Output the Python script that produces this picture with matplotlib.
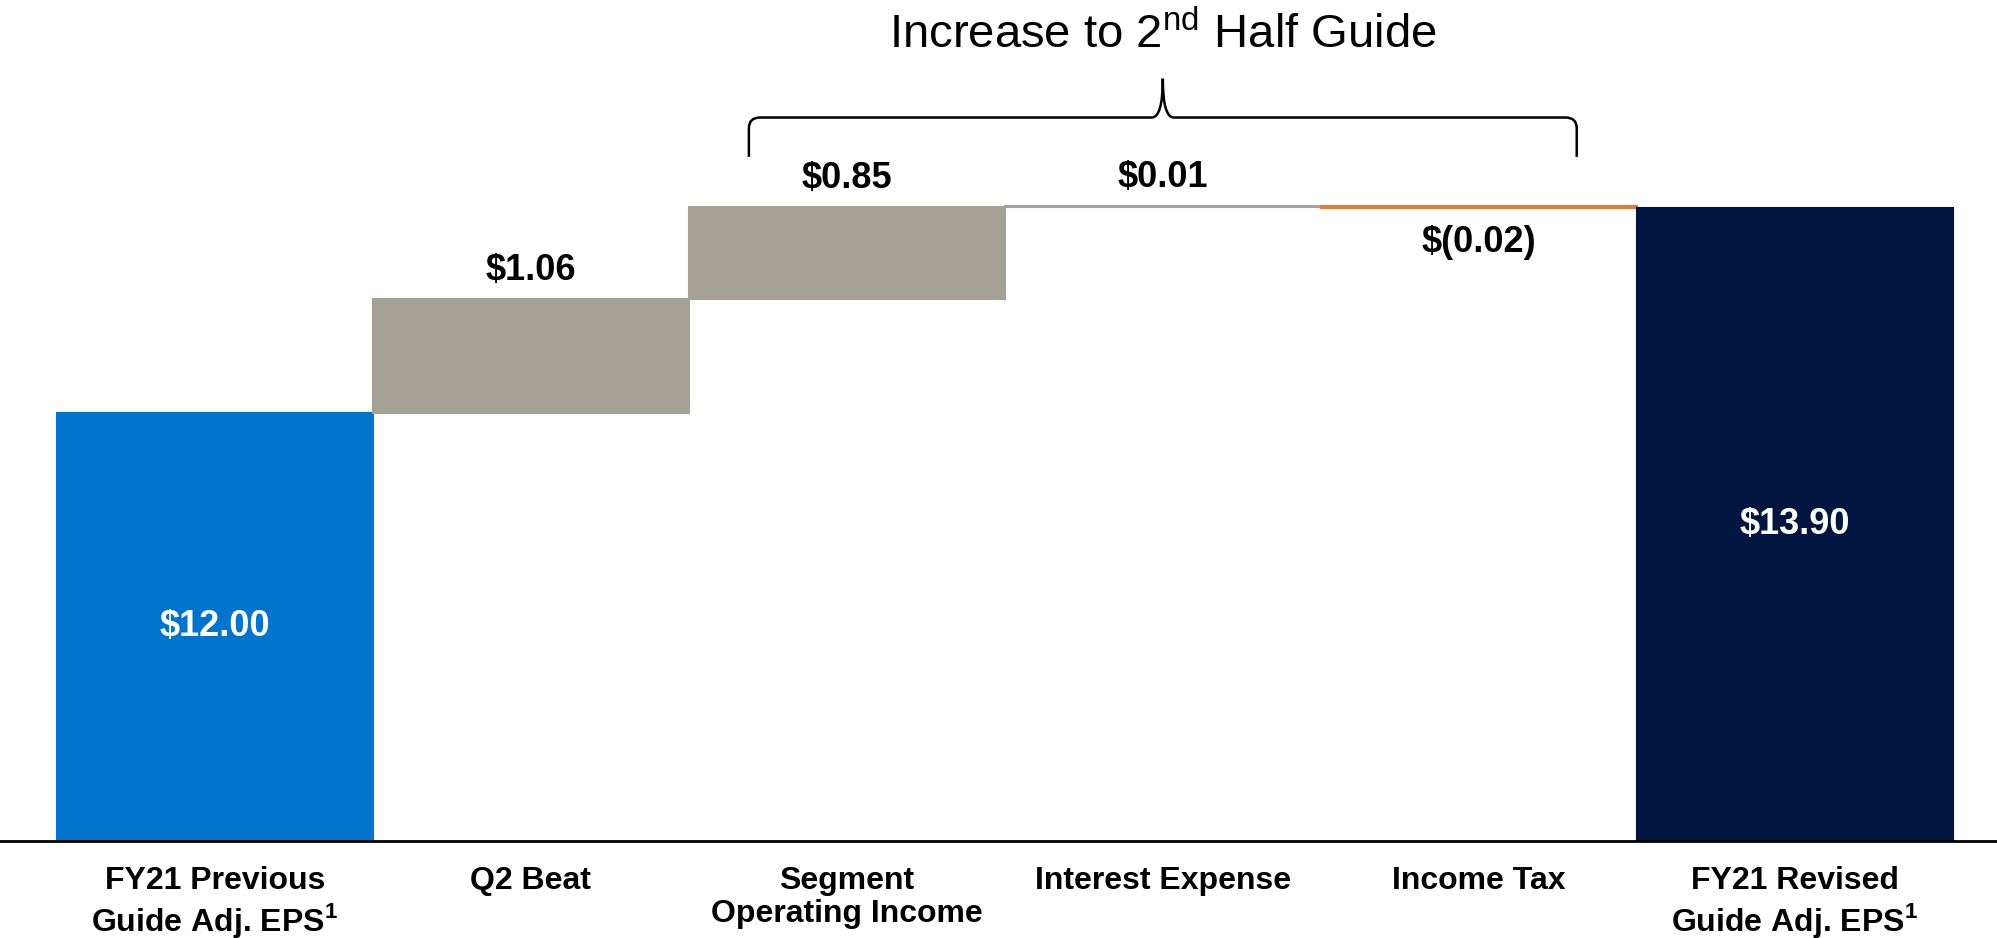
import matplotlib.pyplot as plt
from matplotlib.path import Path
from matplotlib.patches import PathPatch
import numpy as np

plt.rcParams['font.family'] = ['Liberation Sans', 'DejaVu Sans']
plt.rcParams['mathtext.fontset'] = 'custom'
plt.rcParams['mathtext.rm'] = 'Liberation Sans'
plt.rcParams['mathtext.bf'] = 'Liberation Sans:bold'

# data
categories = ['FY21 Previous\nGuide Adj. EPS$^\\mathbf{1}$', 'Q2 Beat', 'Segment\nOperating Income',
              'Interest Expense', 'Income Tax', 'FY21 Revised\nGuide Adj. EPS$^\\mathbf{1}$']
start_value = 12.00
changes = [1.06, 0.85, 0.01, -0.02]
end_value = 13.90
labels = ['\\$12.00', '\\$1.06', '\\$0.85', '\\$0.01', '\\$(0.02)', '\\$13.90']

c_start = '#0074CC'
c_up = '#A5A195'
c_down = '#E07B39'
c_end = '#00163F'

y_floor = 8.03

fig = plt.figure(figsize=(19.97, 9.38), dpi=100)
ax = fig.add_axes([0, 1 - 841 / 938, 1, 841 / 938])

x = np.arange(len(categories))
# running totals for the floating bars
cum = start_value + np.cumsum([0] + changes[:-1])
bottoms = [y_floor] + list(cum) + [y_floor]
heights = [start_value - y_floor] + changes + [end_value - y_floor]
colors = [c_start] + [c_up if c > 0 else c_down for c in changes] + [c_end]

ax.bar(x, heights, bottom=bottoms, width=1.0, color=colors, edgecolor=colors, linewidth=1.5)

# value labels
for i, (b, h, lab) in enumerate(zip(bottoms, heights, labels)):
    if i in (0, len(x) - 1):
        ax.text(i, b + h / 2, lab, ha='center', va='center', color='white',
                fontsize=26, fontweight='bold')
    elif h > 0:
        ax.text(i, b + h + 0.1, lab, ha='center', va='bottom', color='black',
                fontsize=26, fontweight='bold')
    else:
        ax.text(i, b + h - 0.16, lab, ha='center', va='top', color='black',
                fontsize=26, fontweight='bold')

# brace over the 2nd half items
x0, x1, xc = 1.69, 4.31, 3.0
yb, yh, yt = end_value + 0.475, end_value + 0.84, end_value + 1.2
rx, ry = 0.035, 0.1
verts = [(x0, yb), (x0, yh - ry), (x0, yh), (x0 + rx, yh),
         (xc - rx, yh), (xc, yh), (xc, yt),
         (xc, yh), (xc + rx, yh),
         (x1 - rx, yh), (x1, yh), (x1, yh - ry), (x1, yb)]
codes = [Path.MOVETO, Path.LINETO, Path.CURVE3, Path.CURVE3,
         Path.LINETO, Path.CURVE3, Path.CURVE3,
         Path.CURVE3, Path.CURVE3,
         Path.LINETO, Path.CURVE3, Path.CURVE3, Path.LINETO]
ax.add_patch(PathPatch(Path(verts, codes), facecolor='none', edgecolor='black', lw=1.8))
ax.text(xc, end_value + 1.49, r'Increase to 2$^{\mathrm{nd}}$ Half Guide', ha='center', va='baseline',
        fontsize=34)

ax.set_xlim(-0.68, 5.64)
ax.set_ylim(y_floor, 15.83)
ax.set_xticks(x)
ax.set_xticklabels(categories, fontsize=23, fontweight='bold', linespacing=1.15, va='top')
ax.tick_params(axis='x', length=0, pad=18)
ax.set_yticks([])
for s in ['top', 'left', 'right']:
    ax.spines[s].set_visible(False)
ax.spines['bottom'].set_linewidth(2)
ax.spines['bottom'].set_color('black')

fig.savefig('out.png', dpi=100)
